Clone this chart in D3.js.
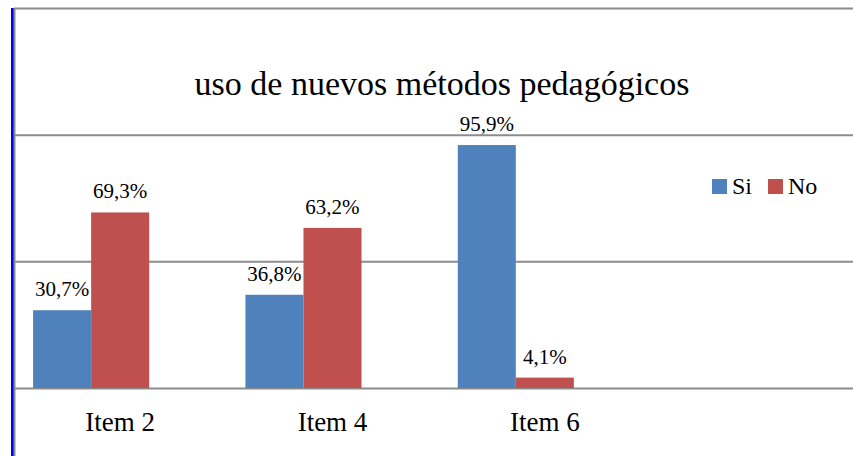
<!DOCTYPE html>
<html>
<head>
<meta charset="utf-8">
<script src="https://cdn.jsdelivr.net/npm/d3@7"></script>
<style>
  body { margin: 0; background: #fff; }
  svg { display: block; }
  text { font-family: "Liberation Serif", "Times New Roman", serif; }
</style>
</head>
<body>
<div id="chart-area"></div>
<script>

var categories = ["Item 2", "Item 4", "Item 6"];
var seriesNames = ["Si", "No"];
var si = [30.7, 36.8, 95.9];
var no = [69.3, 63.2, 4.1];
var yTicks = [0, 50, 100, 150];
var title = "uso de nuevos métodos pedagógicos";

var colors = {Si: "#4F81BD", No: "#C0504D"};

var width = 853, height = 456;
var plotLeft = 14, plotTop = 8, plotBottom = 388;

var svg = d3.select("#chart-area")
    .append("svg")
        .attr("width", width)
        .attr("height", height);

var rows = categories.map(function(c, i) {
    return {cat: c, Si: si[i], No: no[i]};
});

var xScale = d3.scaleBand()
    .domain(categories)
    .range([plotLeft, 651])
    .paddingInner(0.18)
    .paddingOuter(0.09);

// third empty slot, the excel chart has one
var xSub = d3.scaleBand()
    .domain(seriesNames.concat(["_"]))
    .range([0, xScale.bandwidth()]);

var yScale = d3.scaleLinear().domain([0, 150]).range([plotBottom, plotTop]);

// gridlines
var yAxis = d3.axisLeft(yScale)
    .tickValues(yTicks)
    .tickSize(-(width - plotLeft))
    .tickFormat("");

var yAxisEl = svg.append("g")
    .attr("transform", "translate(" + plotLeft + ",0)")
    .call(yAxis);
yAxisEl.select(".domain").remove();
yAxisEl.selectAll("line")
    .attr("stroke", "#8c8c8c")
    .attr("stroke-width", 2);

// left blue marker and axis line
svg.append("rect")
    .attr("x", 11).attr("y", plotTop)
    .attr("width", 3).attr("height", height - plotTop)
    .attr("fill", "#0000ff");
svg.append("line")
    .attr("x1", plotLeft + 0.5).attr("x2", plotLeft + 0.5)
    .attr("y1", plotTop).attr("y2", height)
    .attr("stroke", "#8c8c8c")
    .attr("stroke-width", 2);

// bars
var groups = svg.selectAll("g.cat")
    .data(rows)
    .enter()
    .append("g")
    .attr("class", "cat")
    .attr("transform", function(d) { return "translate(" + xScale(d.cat) + ",0)"; });

groups.selectAll("rect")
    .data(function(d) { return seriesNames.map(function(s) { return {s: s, v: d[s]}; }); })
    .enter()
    .append("rect")
    .attr("x", function(d) { return xSub(d.s); })
    .attr("width", xSub.bandwidth())
    .attr("y", function(d) { return yScale(d.v); })
    .attr("height", function(d) { return plotBottom - yScale(d.v); })
    .attr("fill", function(d) { return colors[d.s]; });

groups.selectAll("text.lbl")
    .data(function(d) { return seriesNames.map(function(s) { return {s: s, v: d[s]}; }); })
    .enter()
    .append("text")
    .attr("class", "lbl")
    .attr("x", function(d) { return xSub(d.s) + xSub.bandwidth() / 2; })
    .attr("y", function(d) { return yScale(d.v) - 14; })
    .attr("text-anchor", "middle")
    .style("font-size", "21px")
    .attr("fill", "#000")
    .text(function(d) { return d3.format(".1f")(d.v).replace(".", ",") + "%"; });

// category labels
var xAxis = d3.axisBottom(xScale).tickSize(0).tickPadding(0);
var xAxisEl = svg.append("g")
    .attr("transform", "translate(0," + plotBottom + ")")
    .call(xAxis);
xAxisEl.select(".domain").remove();
xAxisEl.selectAll("text")
    .attr("y", 43)
    .attr("dy", 0)
    .attr("font-family", null)
    .attr("font-size", null)
    .style("font-size", "27px")
    .attr("fill", "#000");

// title
svg.append("text")
    .attr("x", 442)
    .attr("y", 95)
    .attr("text-anchor", "middle")
    .style("font-size", "34px")
    .attr("fill", "#000")
    .text(title);

// legend
var legend = svg.append("g").attr("transform", "translate(712,179)");
var legendX = d3.scaleOrdinal().domain(seriesNames).range([0, 56]);
var li = legend.selectAll("g")
    .data(seriesNames)
    .enter()
    .append("g")
    .attr("transform", function(d) { return "translate(" + legendX(d) + ",0)"; });
li.append("rect")
    .attr("width", 15).attr("height", 15)
    .attr("fill", function(d) { return colors[d]; });
li.append("text")
    .attr("x", 20).attr("y", 15)
    .style("font-size", "24px")
    .attr("fill", "#000")
    .text(function(d) { return d; });

</script>
</body>
</html>
